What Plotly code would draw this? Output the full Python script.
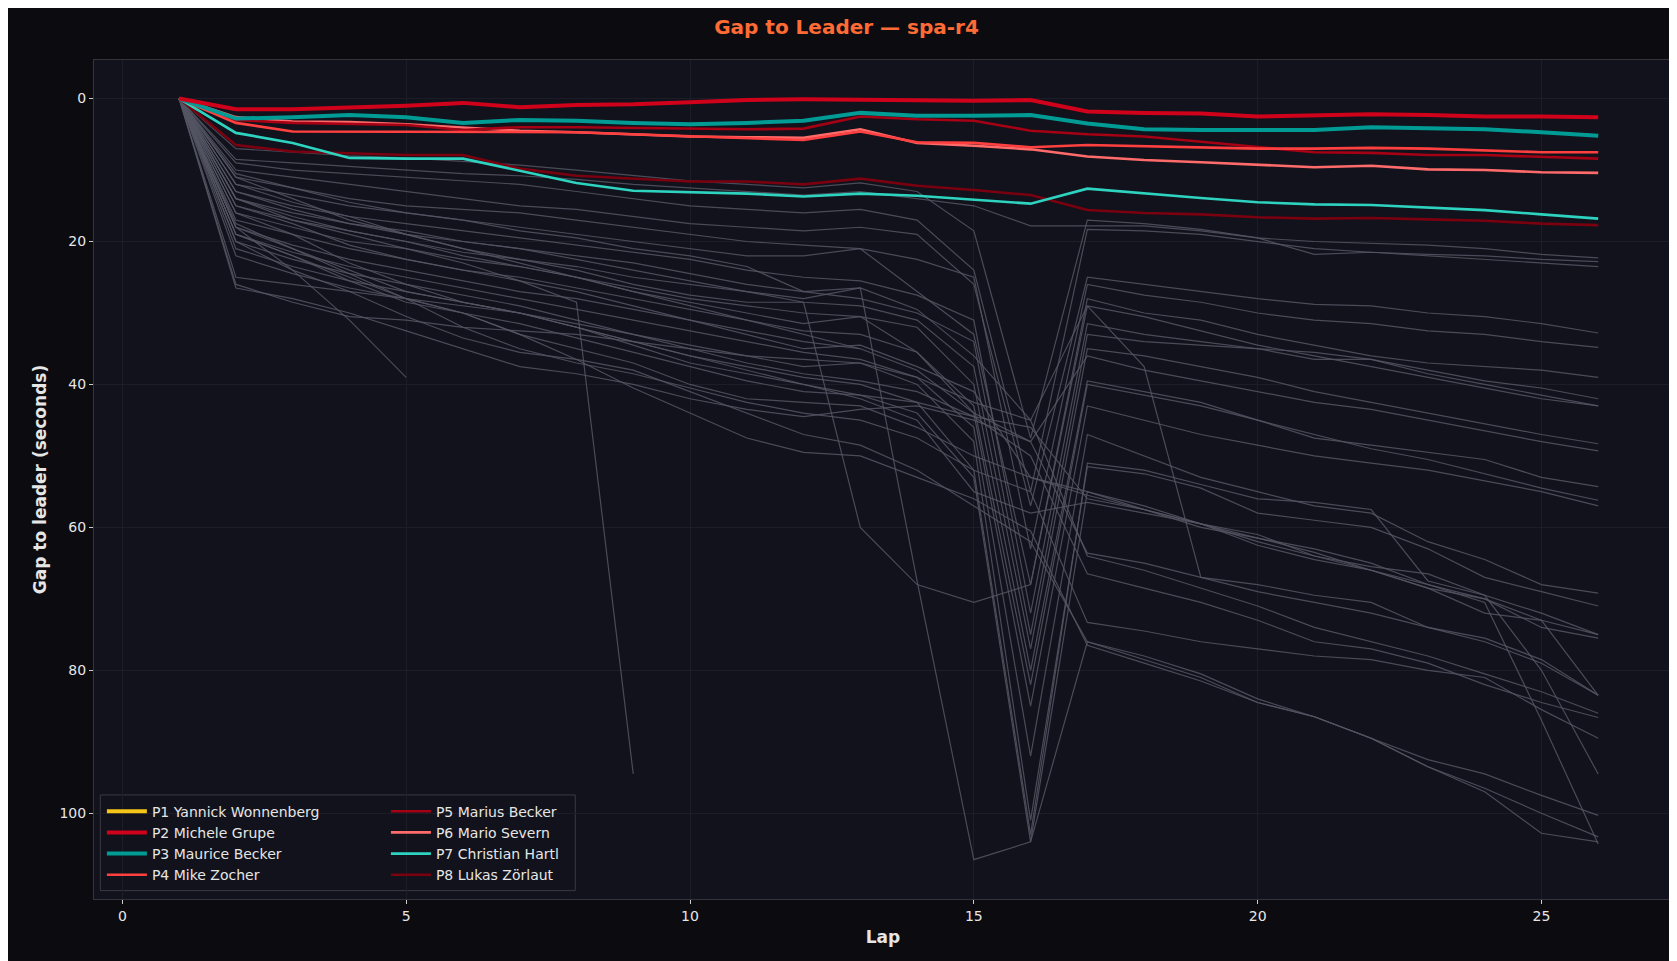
import plotly.graph_objects as go

laps = list(range(1, 27))

# highlighted drivers (gap to leader, seconds, per lap)
drivers = ["P1 Yannick Wonnenberg", "P2 Michele Grupe", "P3 Maurice Becker", "P4 Mike Zocher",
           "P5 Marius Becker", "P6 Mario Severn", "P7 Christian Hartl", "P8 Lukas Zörlaut"]
colors = ["#f5c518", "#d0021b", "#009b94", "#ff4040", "#a50014", "#ff6b6b", "#2ed3c0", "#7a0010"]
widths = [4, 4, 4, 2.6, 2.6, 2.6, 2.6, 2.6]

p1 = [0.0]
p2 = [0, 1.5, 1.5, 1.3, 1.0, 0.6, 1.2, 0.9, 0.8, 0.5, 0.2, 0.1, 0.2, 0.3, 0.3, 0.2,
      1.8, 2.0, 2.1, 2.5, 2.4, 2.2, 2.3, 2.5, 2.5, 2.6]
p3 = [0, 2.8, 2.6, 2.3, 2.6, 3.4, 3.0, 3.1, 3.4, 3.6, 3.4, 3.1, 2.0, 2.4, 2.4, 2.3,
      3.5, 4.3, 4.4, 4.4, 4.4, 4.0, 4.1, 4.3, 4.7, 5.2]
p4 = [0, 3.4, 4.6, 4.6, 4.6, 4.6, 4.6, 4.7, 5.0, 5.3, 5.5, 5.8, 4.6, 6.1, 6.2, 6.8,
      6.5, 6.7, 6.8, 7.0, 7.0, 6.9, 7.0, 7.2, 7.5, 7.5]
p5 = [0, 3.0, 3.4, 3.5, 3.7, 4.4, 4.0, 4.0, 4.1, 4.3, 4.3, 4.2, 2.5, 2.9, 3.1, 4.5,
      5.0, 5.3, 6.0, 6.8, 7.5, 7.6, 7.9, 7.9, 8.2, 8.4]
p6 = [0, 2.6, 3.2, 3.3, 3.6, 4.0, 4.5, 4.7, 5.0, 5.3, 5.4, 5.5, 4.3, 6.2, 6.6, 7.1,
      8.1, 8.6, 8.9, 9.3, 9.6, 9.4, 9.9, 10.0, 10.3, 10.4]
p7 = [0, 4.8, 6.2, 8.3, 8.4, 8.4, 10.1, 11.8, 12.9, 13.1, 13.3, 13.7, 13.3, 13.6, 14.2, 14.7,
      12.6, 13.3, 13.9, 14.5, 14.8, 14.9, 15.2, 15.6, 16.2, 16.8]
p8 = [0, 6.5, 7.4, 7.7, 7.9, 7.9, 9.8, 10.8, 11.2, 11.6, 11.6, 12.0, 11.2, 12.2, 12.8, 13.5,
      15.6, 16.0, 16.2, 16.6, 16.8, 16.7, 16.9, 17.1, 17.5, 17.7]
highlight = [p1, p2, p3, p4, p5, p6, p7, p8]

# rest of the field
field = [
    [0, 8.5, 9, 9.5, 10, 10.5, 10.8, 11.3, 12, 12.5, 13, 13.5, 13, 14, 15, 17.8, 17.8, 17.8, 18.5, 19.5, 20, 20.2, 20.5, 21, 21.8, 22.3],
    [0, 7, 7.5, 8, 8.3, 8.8, 9.3, 10, 10.8, 11.5, 12, 12.5, 11.8, 13, 18.5, 47.5, 17, 17.5, 18.3, 19.5, 21.8, 21.5, 21.8, 22, 22.5, 22.8],
    [0, 9, 10, 10.5, 11, 11.5, 12, 13, 14, 15, 15.5, 16, 15.5, 17, 24, 55, 18.3, 18.5, 19, 20, 21, 21.5, 22, 22.5, 23, 23.5],
    [0, 10, 11, 12, 13, 14, 15, 15.5, 16.5, 17.5, 18, 18.5, 18, 19, 26, 57, 25, 26, 27, 28, 28.8, 29, 30, 30.5, 31.5, 32.8],
    [0, 11, 12.5, 14, 15, 15.5, 16, 17, 18, 19, 20, 20.5, 21, 22.5, 25, 63, 26, 27.5, 28.5, 30, 31, 31.5, 32.5, 33, 34, 34.8],
    [0, 12, 13.5, 15, 16, 17, 18, 19, 20, 21, 22, 22, 21, 27, 33, 68, 28, 30, 31, 33, 34.5, 36, 37, 37.5, 38, 39],
    [0, 13, 15, 16.5, 17.5, 18.5, 19.5, 20.5, 21.5, 22.5, 24, 25, 25.5, 27.5, 31, 72, 31.5, 33, 34, 35, 36.5, 36.5, 38, 39.5, 40.5, 42],
    [0, 14, 16, 17.5, 19, 20, 21, 22, 23, 24.5, 26, 27, 28, 30, 34, 75, 33, 34, 34.5, 35, 35.5, 36.5, 38.5, 40, 41.5, 43],
    [0, 15, 17, 18.5, 20, 21.5, 22.5, 23.5, 25, 26, 27, 28.5, 29, 31, 37.5, 77, 35, 36, 37.5, 39, 41, 42.5, 44, 45.5, 47, 48.3],
    [0, 16, 18, 20, 21, 22.5, 23.5, 25, 26.5, 28, 29, 30, 30.5, 32, 40, 80, 39.5, 41, 42.5, 45, 47.5, 48.5, 49.5, 50.5, 53, 54.3],
    [0, 17, 19, 21, 22.5, 24, 25, 26.5, 28, 29.5, 31, 32.5, 33, 35.5, 43, 82, 40, 41.5, 43, 45, 47, 49, 50.5, 52.5, 54.5, 56.2],
    [0, 18, 20.5, 22.5, 24, 25.5, 27, 28, 29.5, 31, 32.5, 34, 35, 38, 44, 85, 43, 45, 47, 48.5, 50, 51, 52, 53.5, 55, 57],
    [0, 19, 21.5, 23.5, 25, 26.5, 28, 29.5, 31, 32.5, 34, 35.5, 36.5, 39, 46, 92, 47, 50, 53, 55, 57, 58, 62, 64.5, 68, 69.2],
    [0, 20, 22.5, 24.5, 26, 27.5, 29, 31, 33, 34.5, 36, 37.5, 37, 40, 48, 101, 51.5, 52.5, 54.5, 58, 59, 60, 63, 67, 69, 71],
    [0, 21, 23.5, 25.5, 27, 28.5, 30, 32, 34, 36, 37.5, 39, 40, 42.5, 52, 103, 51, 52, 54, 56, 56.5, 57.5, 67.5, 69.5, 72, 75],
    [0, 22, 24.5, 26.5, 28, 30, 31.5, 33.5, 35.5, 37.5, 39.5, 41, 41.5, 44, 53, 104, 55, 57, 59.5, 61.5, 63.5, 66, 68.5, 70, 74, 75.5],
    [0, 25, 26, 27, 28, 29, 30, 32, 34, 36, 38, 40, 42, 45, 55, 58, 56.5, 58, 59.5, 61, 64, 66, 68.5, 72, 73, 83.5],
    [0, 26.5, 28, 30, 32.5, 35, 37.5, 38.5, 40, 42, 43.5, 44.5, 43.5, 43, 45, 48, 63.6, 65, 67, 69, 70.5, 72, 74, 76, 79, 83.5],
    [0, 18, 21, 24, 27, 28.5, 30, 31.5, 33, 35, 37, 38.5, 39.5, 41, 44.5, 50, 66.5, 68.5, 70.5, 73, 76, 77, 79, 82, 84.5, 86.6],
    [0, 19, 22, 25, 28, 32, 35, 37, 38.5, 40.5, 42.5, 44, 45, 47.5, 52, 55, 73.3, 74.5, 76, 77, 78, 78.5, 80, 81, 85.5, 89.5],
    [0, 20, 24, 27, 30.5, 33.5, 35.5, 36.5, 38, 41, 44, 47, 48.5, 52, 57, 62, 76, 78, 80.5, 84, 86.5, 89.5, 93.5, 96.5, 100, 103.3],
    [0, 17.5, 21, 24.5, 28, 30, 33, 36.5, 40.5, 44, 47.5, 49.5, 50, 53, 56, 60.5, 76.5, 79, 81.5, 84.5, 86.5, 89.5, 92.5, 94.5, 97.5, 100.3],
    [0, 16, 19, 23, 26, 28.5, 30, 32, 34.5, 37, 38.5, 40, 41.5, 42.5, 44.5, 46, 56, 57.5, 59.5, 62, 64, 65.5, 66.5, 69.5, 80, 94.5],
    [0, 15, 17.5, 20.5, 22.5, 24, 25.5, 27, 29, 31, 33, 35, 34.5, 37.5, 41, 53, 55, 57.5, 60, 61.5, 63, 65, 68, 70.5, 87, 104.3],
    [0, 14, 16.5, 18.5, 20, 22, 23.5, 25, 27, 28.5, 30, 31.5, 30.5, 35.5, 44, 48, 36, 38, 39.5, 41, 42.5, 43.5, 45, 46.5, 48, 49.3],
    [0, 13, 15.5, 17.5, 18.5, 20, 21, 22.5, 24, 25.5, 27, 28, 26.5, 29.5, 36, 45, 29, 30.5, 32.5, 34.5, 36, 37.5, 39, 40.5, 42, 43],
    [0, 19, 22, 25.5, 28.5, 30, 33, 35, 37, 40, 42, 42.5, 43, 46, 50, 53, 55.5, 57.5, 59.5, 62.5, 64.5, 66, 68, 70, 73, 75],
    [0, 26, 28.5, 30.5, 31, 32, 32.5, 33, 34, 35, 36, 36.5, 37, 39, 42.5, 45, 64, 66, 68.5, 71, 74, 76, 78, 80.5, 83, 86],
    [0, 18, 24, 31, 39],
    [0, 14, 17, 19, 21, 23, 25.5, 28.5, 94.5],
    [0, 11, 14, 17, 19, 21, 23, 25, 27, 29, 31, 33, 35],
    [0, 12, 14.5, 16.5, 19, 21, 22.5, 24, 26, 27.5, 28.5, 28.5, 60, 68, 70.5, 68, 29, 37.5, 67, 68, 69.5, 70.5, 74, 75.5, 78.5, 83.5],
    [0, 10.5, 12.5, 14.5, 16, 17, 18.5, 19.5, 21, 22, 23.5, 27, 26.5, 67.5, 106.5, 104, 76, 78.5, 81, 84.5, 86.5, 89.5, 93.5, 97, 102.8, 104],
]

fig = go.Figure()

for vals in field:
    fig.add_trace(go.Scatter(x=laps[:len(vals)], y=vals, mode="lines", showlegend=False,
                             hoverinfo="skip",
                             line=dict(color="rgba(85,86,100,0.85)", width=1.2)))

for i in reversed(range(len(drivers))):
    fig.add_trace(go.Scatter(x=laps[:len(highlight[i])], y=highlight[i], mode="lines",
                             name=drivers[i], legend="legend" if i < 4 else "legend2",
                             legendrank=i,
                             line=dict(color=colors[i], width=widths[i])))

leg = dict(bgcolor="rgba(0,0,0,0)", font=dict(color="#e6e6e6", size=14),
           yanchor="bottom", y=0.01, tracegroupgap=0, itemwidth=40, traceorder="normal")

fig.update_layout(
    width=1677, height=961,
    paper_bgcolor="#0b0b10", plot_bgcolor="#11121b",
    font=dict(family="DejaVu Sans", color="#e6e6e6", size=14),
    title=dict(text="<b>Gap to Leader — spa-r4</b>", x=0.5, xanchor="center", y=0.988,
               font=dict(color="#ff6b35", size=20)),
    margin=dict(l=86, r=13, t=52, b=70),
    legend=dict(x=0.005, xanchor="left", **leg),
    legend2=dict(x=0.185, xanchor="left", **leg),
    shapes=[dict(type="rect", xref="paper", yref="paper", x0=0.004, x1=0.305, y0=0.01, y1=0.124,
                 fillcolor="#11121b", line=dict(color="#3a3a44", width=1), layer="below")],
)
fig.update_xaxes(title=dict(text="<b>Lap</b>", standoff=8), range=[-0.5, 27.3],
                 tickvals=[0, 5, 10, 15, 20, 25], gridcolor="#1c1d26", zeroline=False,
                 showline=True, linecolor="#33343d", mirror=True, ticks="outside",
                 tickcolor="#cccccc", ticklen=4)
fig.update_yaxes(title=dict(text="<b>Gap to leader (seconds)</b>", standoff=8), range=[112, -5.4],
                 tickvals=[0, 20, 40, 60, 80, 100], gridcolor="#1c1d26", zeroline=False,
                 showline=True, linecolor="#33343d", mirror=True, ticks="outside",
                 tickcolor="#cccccc", ticklen=4)

fig.write_html("out.html")
